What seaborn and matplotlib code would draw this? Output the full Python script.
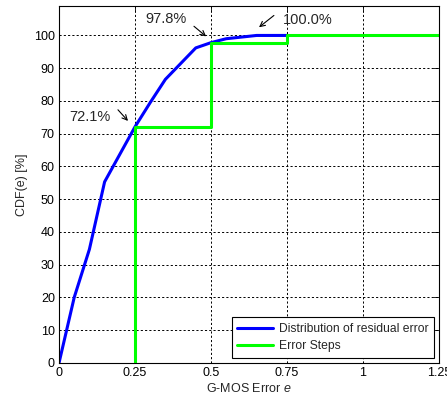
import matplotlib
matplotlib.use("Agg")
import matplotlib.pyplot as plt
import seaborn as sns
import pandas as pd

# Empirical CDF of the residual G-MOS error
error_x = [0.0, 0.05, 0.10, 0.15, 0.25, 0.30, 0.35, 0.45, 0.50, 0.55, 0.60, 0.65, 0.75]
cdf_values = [0.0, 20.0, 34.7, 55.3, 72.1, 79.5, 86.6, 96.2, 97.8, 99.0, 99.5, 100.0, 100.0]

# Quantised error steps
step_x = [0.25, 0.25, 0.50, 0.75, 1.25]
step_y = [0.0, 72.1, 97.8, 100.0, 100.0]

x_ticks = [0, 0.25, 0.5, 0.75, 1, 1.25]
x_tick_labels = ["0", "0.25", "0.5", "0.75", "1", "1.25"]
y_ticks = [0, 10, 20, 30, 40, 50, 60, 70, 80, 90, 100]

sns.set_style("white")
plt.rcParams["font.family"] = ["Liberation Sans", "DejaVu Sans"]
plt.rcParams["mathtext.fontset"] = "custom"
plt.rcParams["mathtext.it"] = "Liberation Sans:italic"

cdf_df = pd.DataFrame({"e": error_x, "cdf": cdf_values})
step_df = pd.DataFrame({"e": step_x, "cdf": step_y})

fig = plt.figure(figsize=(4.47, 3.98), dpi=100)
ax = fig.add_axes([0.132, 0.088, 0.850, 0.897])

sns.lineplot(data=cdf_df, x="e", y="cdf", ax=ax, color="#0000ff", lw=2.2,
             estimator=None, sort=False, label="Distribution of residual error")
sns.lineplot(data=step_df, x="e", y="cdf", ax=ax, color="#00ff00", lw=2.2,
             estimator=None, sort=False, drawstyle="steps-post", label="Error Steps")

ax.set_xlim(0, 1.25)
ax.set_ylim(0, 109)
ax.set_xticks(x_ticks)
ax.set_xticklabels(x_tick_labels)
ax.set_yticks(y_ticks)
ax.tick_params(direction="in", length=4, width=0.6, labelsize=9, colors="black",
               top=True, right=True, pad=3)
ax.grid(True, color="black", linestyle=(0, (2.2, 2.2)), linewidth=0.7)
for s in ax.spines.values():
    s.set_color("black")
    s.set_linewidth(0.8)

ax.set_xlabel("G-MOS Error $e$", fontsize=9, labelpad=2)
ax.set_ylabel("CDF(e) [%]", fontsize=9, labelpad=4)

# Value labels with small pointer arrows
arrow = dict(arrowstyle="->", color="black", lw=0.8, shrinkA=0, shrinkB=0,
             mutation_scale=9)
ax.text(0.168, 75.2, "72.1%", fontsize=10.5, ha="right", va="center")
ax.annotate("", xy=(0.227, 73.9), xytext=(0.194, 77.3), arrowprops=arrow)
ax.text(0.283, 104.9, "97.8%", fontsize=10.5, ha="left", va="center")
ax.annotate("", xy=(0.484, 99.7), xytext=(0.444, 102.8), arrowprops=arrow)
ax.text(0.737, 104.6, "100.0%", fontsize=10.5, ha="left", va="center")
ax.annotate("", xy=(0.658, 102.5), xytext=(0.707, 106.1), arrowprops=arrow)

leg = ax.legend(loc="lower right", fontsize=8.7, frameon=True, fancybox=False,
                edgecolor="black", framealpha=1, borderpad=0.45,
                handlelength=3.0, handletextpad=0.5, labelspacing=0.45,
                borderaxespad=0, bbox_to_anchor=(0.988, 0.015))
leg.get_frame().set_linewidth(0.8)

fig.savefig("out.png", dpi=100, facecolor="white")
